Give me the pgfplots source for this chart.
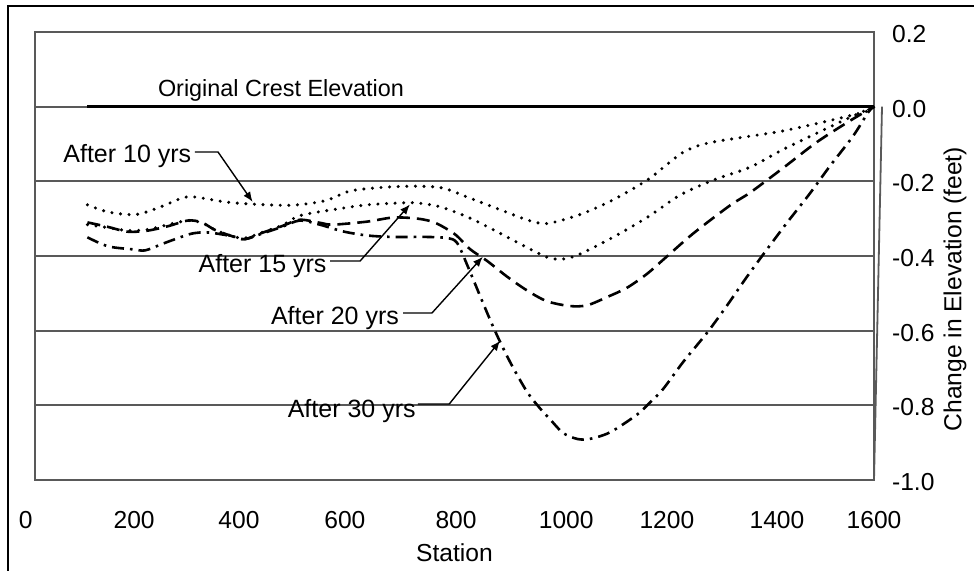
\documentclass[border=0pt]{standalone}
\usepackage{fontspec}
\setmainfont{Liberation Sans}
\usepackage{pgfplots}
\pgfplotsset{compat=1.18}
\usetikzlibrary{arrows.meta}

\newcommand{\lbl}{\fontsize{12.3}{14}\selectfont}
\newcommand{\ann}{\fontsize{12.5}{15}\selectfont}

\begin{document}
\begin{tikzpicture}
\begin{axis}[
  scale only axis,
  width=419.5pt, height=224pt,
  xmin=0, xmax=1600, ymin=-1, ymax=0.2,
  axis line style={black!65, line width=0.9pt},
  xtick={0,189,389,591,803,1013,1205,1415,1600},
  xticklabels={\makebox[0pt][r]{0\kern1.2pt},200,400,600,800,1000,1200,1400,1600},
  ytick={-1,-0.8,-0.6,-0.4,-0.2,0,0.2},
  yticklabels={-1.0,-0.8,-0.6,-0.4,-0.2,0.0,0.2},
  yticklabel pos=right,
  major tick length=0pt,
  ymajorgrids,
  grid style={black!65, line width=0.9pt},
  tick label style={font=\lbl},
  xticklabel style={anchor=north, yshift=-12pt},
  yticklabel style={anchor=west, xshift=5.5pt, yshift=-1pt},
  xlabel={Station},
  ylabel={Change in Elevation (feet)},
  every axis x label/.style={at={(axis description cs:0.5,0)}, anchor=center, yshift=-36.5pt, font=\lbl},
  every axis y label/.style={at={(axis description cs:1.0966,0.426)}, anchor=center, rotate=90, font=\lbl},
  clip=false,
]
% original crest
\addplot[black, line width=1.5pt] coordinates {(100,0) (1600,0)};

% after 10 yrs
\addplot[black, line width=1.7pt, line cap=round, dash pattern=on 0pt off 4.3pt, smooth, tension=0.5] coordinates {
(100,-0.263) (139,-0.282) (191,-0.289) (235,-0.271) (280,-0.245) (305,-0.242)
(362,-0.255) (414,-0.261) (490,-0.264) (553,-0.252) (601,-0.226) (664,-0.216)
(728,-0.213) (778,-0.218) (824,-0.242) (887,-0.276) (938,-0.303) (976,-0.313)
(1039,-0.289) (1102,-0.250) (1167,-0.197) (1205,-0.155) (1236,-0.122) (1268,-0.103)
(1300,-0.093) (1331,-0.086) (1426,-0.065) (1522,-0.035) (1587,-0.012) (1600,0)};

% after 15 yrs
\addplot[black, line width=1.7pt, line cap=round, dash pattern=on 0pt off 4.3pt, smooth, tension=0.5] coordinates {
(100,-0.316) (139,-0.324) (177,-0.332) (215,-0.329) (254,-0.316) (292,-0.305)
(318,-0.311) (343,-0.330) (376,-0.347) (400,-0.352) (433,-0.337) (471,-0.318)
(505,-0.292) (568,-0.276) (633,-0.263) (696,-0.258) (728,-0.258) (772,-0.268)
(824,-0.295) (873,-0.329) (919,-0.363) (976,-0.403) (1007,-0.408) (1039,-0.395)
(1102,-0.350) (1167,-0.297) (1230,-0.237) (1293,-0.197) (1364,-0.162) (1426,-0.115)
(1491,-0.071) (1554,-0.029) (1600,0)};

% after 20 yrs
\addplot[black, line width=1.3pt, dash pattern=on 6.5pt off 3.5pt, smooth, tension=0.5] coordinates {
(100,-0.310) (139,-0.322) (177,-0.335) (215,-0.332) (254,-0.320) (292,-0.305)
(318,-0.310) (343,-0.330) (376,-0.347) (400,-0.355) (433,-0.338) (471,-0.320)
(505,-0.303) (543,-0.311) (568,-0.316) (633,-0.308) (683,-0.297) (730,-0.300)
(763,-0.311) (801,-0.342) (830,-0.382) (862,-0.413) (900,-0.455) (938,-0.492)
(976,-0.521) (1020,-0.534) (1053,-0.532) (1091,-0.510) (1129,-0.485) (1167,-0.448)
(1198,-0.410) (1255,-0.340) (1325,-0.265) (1364,-0.230) (1426,-0.165) (1491,-0.095)
(1554,-0.038) (1600,0)};

% after 30 yrs
\addplot[black, line width=1.3pt, dash pattern=on 6pt off 3pt on 1.3pt off 3pt, smooth, tension=0.5] coordinates {
(100,-0.350) (139,-0.374) (185,-0.382) (210,-0.385) (242,-0.368) (267,-0.355)
(299,-0.340) (330,-0.337) (376,-0.347) (400,-0.355) (433,-0.340) (471,-0.322)
(505,-0.305) (543,-0.316) (587,-0.334) (633,-0.345) (683,-0.349) (748,-0.349)
(786,-0.352) (805,-0.365) (826,-0.430) (852,-0.518) (877,-0.600) (906,-0.684)
(938,-0.763) (963,-0.808) (982,-0.837) (1007,-0.874) (1034,-0.890) (1058,-0.890)
(1097,-0.872) (1148,-0.825) (1173,-0.792) (1198,-0.756) (1236,-0.684) (1282,-0.605)
(1320,-0.532) (1358,-0.455) (1396,-0.382) (1434,-0.311) (1478,-0.232) (1516,-0.159)
(1560,-0.079) (1589,-0.015) (1600,0)};

% axis corner extensions
\draw[black!65, line width=0.9pt] (axis cs:0,-1) -- ++(0,-4.5pt);
\draw[black!65, line width=0.9pt] (axis cs:1600,-1) -- ++(0,-4.5pt);
\draw[black!65, line width=0.9pt] (axis cs:1600,-1) -- ++(4pt,0);

% annotations
\node[anchor=base, font=\fontsize{11.7}{13}\selectfont, inner sep=0pt] at (axis cs:469,0.0259) {Original Crest Elevation};
\node[anchor=base, font=\ann, inner sep=0pt] at (axis cs:176,-0.1509) {After 10 yrs};
\node[anchor=base, font=\ann, inner sep=0pt] at (axis cs:434,-0.4455) {After 15 yrs};
\node[anchor=base, font=\ann, inner sep=0pt] at (axis cs:572,-0.5848) {After 20 yrs};
\node[anchor=base, font=\ann, inner sep=0pt] at (axis cs:604,-0.8313) {After 30 yrs};

\draw[black, line width=0.7pt, -{Latex[length=5pt,width=4pt]}]
  (axis cs:305,-0.1214) -- (axis cs:349,-0.1214) -- (axis cs:415,-0.255);
\draw[black, line width=0.7pt, -{Latex[length=5pt,width=4pt]}]
  (axis cs:563,-0.4134) -- (axis cs:620,-0.4134) -- (axis cs:715,-0.262);
\draw[black, line width=0.7pt, -{Latex[length=5pt,width=4pt]}]
  (axis cs:702,-0.5527) -- (axis cs:757,-0.5527) -- (axis cs:854,-0.402);
\draw[black, line width=0.7pt, -{Latex[length=5pt,width=4pt]}]
  (axis cs:730,-0.7964) -- (axis cs:790,-0.7964) -- (axis cs:887,-0.627);

% outer frame, running off the right and bottom edges
\draw[black, line width=1pt] (axis cs:-51.5,0.2696) rectangle (axis cs:1821,-1.2946);

\coordinate (BL) at (axis cs:-66.75,-1.24375);
\coordinate (TR) at (axis cs:1790.7,0.28571);
\end{axis}
\pgfresetboundingbox
\useasboundingbox (BL) rectangle (TR);
\end{tikzpicture}
\end{document}
